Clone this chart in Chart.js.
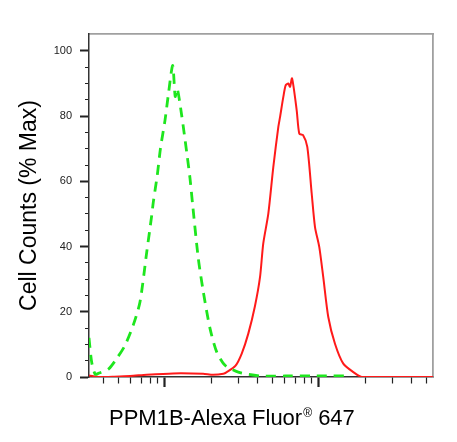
<!DOCTYPE html>
<html>
<head>
<meta charset="utf-8">
<script src="https://cdn.jsdelivr.net/npm/chart.js@4.4.1/dist/chart.umd.min.js"></script>
<style>
  html, body { margin: 0; padding: 0; background: #ffffff; }
  #wrap { width: 457px; height: 442px; position: relative; }
</style>
</head>
<body>
<div id="wrap"><canvas id="c"></canvas></div>
<script>
// ---- Data ----
const greenX = [321, 334, 352, 369, 429, 486, 550, 622, 688, 761, 820, 840, 891, 935, 1000, 1050, 1122, 1165, 1200, 1283, 1383, 1453, 1513, 1645, 1774, 1960, 2166, 2453, 2993, 4140, 6000, 9000, 12000, 16000];
const greenY = [12, 4.6, 0.8, 1.1, 2.4, 5.7, 9.7, 15.9, 23.0, 38.3, 49.6, 53.7, 61.9, 70.2, 78.7, 86.4, 95.6, 86, 88.5, 80.3, 69.0, 61.0, 52.7, 36.4, 26.1, 14.9, 7.7, 3.6, 1.5, 0.3, 0.3, 0.3, 0.3, 0.3];

const redX = [321, 379, 460, 593, 761, 1127, 1767, 2051, 2393, 2518, 2864, 3150, 3475, 3837, 4140, 4345, 4688, 5050, 5445, 5585, 5867, 6081, 6323, 6486, 6683, 7165, 7452, 7874, 8395, 8970, 9421, 10040, 10660, 11490, 12700, 14380, 16710, 18940, 30000, 55000];
const redY = [0.5, 0, 0.1, 0.3, 0.7, 1.1, 1.0, 0.7, 1.0, 1.5, 3.4, 7.2, 13.3, 21.7, 30.6, 40.9, 50.1, 64.4, 76.7, 79.7, 85.9, 89.5, 90.0, 89.0, 91.6, 81.8, 74.6, 74.2, 70.6, 56.2, 46.0, 39.9, 30.6, 18.4, 10.2, 4.1, 1.5, 0, 0, 0];

const yTickValues = [0, 5, 10, 15, 20, 25, 30, 35, 40, 45, 50, 55, 60, 65, 70, 75, 80, 85, 90, 95, 100];
const yLabelValues = [0, 20, 40, 60, 80, 100];
const xMajorTicks = [1000, 10000];
const xMinorTicks = [400, 500, 600, 700, 800, 900, 2000, 3000, 4000, 5000, 6000, 7000, 8000, 9000, 20000, 30000, 40000, 50000];

const yTitle = 'Cell Counts (% Max)';
const xTitleParts = ['PPM1B-Alexa Fluor', '\u00AE', ' 647'];

const FONT = "Arial, 'Liberation Sans', sans-serif";

const toPoints = (xs, ys) => xs.map((x, i) => ({ x: x, y: ys[i] }));

const xTitlePlugin = {
  id: 'xTitle',
  afterDraw(chart) {
    const ctx = chart.ctx;
    ctx.save();
    ctx.fillStyle = '#000';
    ctx.textBaseline = 'alphabetic';
    ctx.textAlign = 'left';
    let x = 109;
    const y = 425;
    ctx.font = '22px ' + FONT;
    ctx.fillText(xTitleParts[0], x, y);
    x += ctx.measureText(xTitleParts[0]).width + 1;
    ctx.font = '12px ' + FONT;
    ctx.fillText(xTitleParts[1], x, y - 8);
    x += ctx.measureText(xTitleParts[1]).width;
    ctx.font = '22px ' + FONT;
    ctx.fillText(xTitleParts[2], x, y);
    ctx.restore();
  }
};

new Chart(document.getElementById('c'), {
  type: 'line',
  data: {
    datasets: [
      {
        label: 'Isotype',
        data: toPoints(greenX, greenY),
        borderColor: '#1ee61e',
        borderWidth: 2.8,
        borderDash: [10, 7],
        pointRadius: 0,
        tension: 0.25,
        fill: false
      },
      {
        label: 'PPM1B',
        data: toPoints(redX, redY),
        borderColor: '#ff1a1a',
        borderWidth: 2,
        pointRadius: 0,
        tension: 0.25,
        fill: false
      }
    ]
  },
  options: {
    responsive: true,
    maintainAspectRatio: false,
    animation: false,
    layout: { padding: { top: 34, right: 24, left: 0, bottom: 0 } },
    plugins: { legend: { display: false }, tooltip: { enabled: false } },
    scales: {
      x: {
        type: 'logarithmic',
        position: 'bottom',
        min: 321,
        max: 55000,
        bounds: 'data',
        afterBuildTicks: s => {
          s.ticks = xMinorTicks.concat(xMajorTicks).sort((a, b) => a - b)
            .map(v => ({ value: v, major: xMajorTicks.includes(v) }));
        },
        afterFit: s => { s.height = 65; },
        ticks: { display: false, autoSkip: false },
        grid: {
          drawOnChartArea: false,
          drawTicks: true,
          tickLength: 10,
          tickColor: '#222',
          tickWidth: c => (c.tick && xMajorTicks.includes(c.tick.value)) ? 2.2 : 1.2,
          tickBorderDash: c => (c.tick && xMajorTicks.includes(c.tick.value)) ? [] : [6, 100]
        },
        border: { color: '#333', width: 1.5 }
      },
      x2: {
        type: 'linear',
        position: 'top',
        min: 0, max: 1,
        afterFit: s => { s.height = 0; },
        ticks: { display: false },
        grid: { drawOnChartArea: false, drawTicks: false },
        border: { color: '#a0a0a0', width: 1.8 }
      },
      y: {
        type: 'linear',
        position: 'left',
        min: 0,
        max: 105.2,
        bounds: 'data',
        afterBuildTicks: s => { s.ticks = yTickValues.map(v => ({ value: v })); },
        afterFit: s => { s.width = 89; },
        ticks: {
          autoSkip: false,
          padding: 8,
          color: '#222',
          font: { size: 11, family: FONT },
          callback: v => yLabelValues.includes(v) ? String(v) : ''
        },
        grid: {
          drawOnChartArea: false,
          drawTicks: true,
          tickLength: 9,
          tickColor: '#222',
          tickWidth: c => (c.tick && yLabelValues.includes(c.tick.value)) ? 2 : 1.1,
          tickBorderDash: c => (c.tick && yLabelValues.includes(c.tick.value)) ? [] : [0, 5, 4, 100]
        },
        border: { color: '#333', width: 1.5 },
        title: {
          display: true,
          text: yTitle,
          color: '#000',
          font: { size: 23, family: FONT },
          padding: { top: 16, bottom: 0 }
        }
      },
      y2: {
        type: 'linear',
        position: 'right',
        min: 0, max: 1,
        afterFit: s => { s.width = 0; },
        ticks: { display: false },
        grid: { drawOnChartArea: false, drawTicks: false },
        border: { color: '#a0a0a0', width: 1.8 }
      }
    }
  },
  plugins: [xTitlePlugin]
});
</script>
</body>
</html>
